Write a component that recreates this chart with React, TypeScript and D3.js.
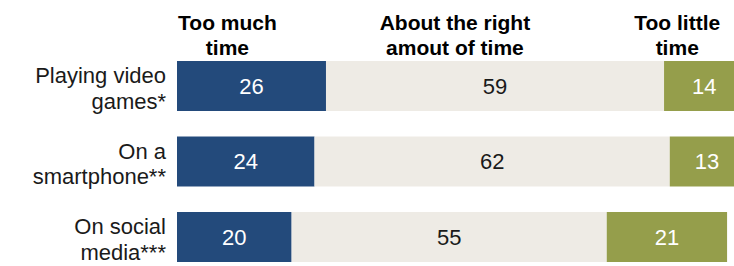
import React from "react";
import * as d3 from "d3";

const categories = [
  ["Playing video", "games*"],
  ["On a", "smartphone**"],
  ["On social", "media***"],
];
const tooMuch = [26, 24, 20];
const aboutRight = [59, 62, 55];
const tooLittle = [14, 13, 21];
const seriesKeys = ["tooMuch", "aboutRight", "tooLittle"];
const headerLabels = [
  ["Too much", "time"],
  ["About the right", "amout of time"],
  ["Too little", "time"],
];

const W = 734;
const H = 266;
const colors: Record<string, string> = {
  tooMuch: "#234a7b",
  aboutRight: "#eeebe5",
  tooLittle: "#959e4b",
};
const textColors: Record<string, string> = {
  tooMuch: "#ffffff",
  aboutRight: "#1a1a1a",
  tooLittle: "#ffffff",
};
const FONT = "'Liberation Sans', Arial, sans-serif";

export default function App() {
  const rows = categories.map((c, i) => ({
    idx: i,
    tooMuch: tooMuch[i],
    aboutRight: aboutRight[i],
    tooLittle: tooLittle[i],
  }));
  const stacked = d3.stack<any>().keys(seriesKeys)(rows);
  const x = d3.scaleLinear().domain([0, 100]).range([177, 750]);
  const y = d3
    .scaleBand<number>()
    .domain(rows.map((r) => r.idx))
    .range([48.25, 274.75])
    .paddingInner(0.338)
    .paddingOuter(0.169);
  const headerAt = [8.8, 48.5, 87.3];

  return (
    <svg
      width={W}
      height={H}
      style={{ position: "absolute", left: 0, top: 0, display: "block" }}
      fontFamily={FONT}
    >
      {stacked.map((s) =>
        s.map((d, i) => {
          const x0 = x(d[0]);
          const x1 = x(d[1]);
          const yy = y(i)!;
          const bw = y.bandwidth();
          return (
            <g key={s.key + i}>
              <rect x={x0} y={yy} width={x1 - x0} height={bw} fill={colors[s.key]} />
              <text
                x={(x0 + x1) / 2}
                y={yy + bw / 2}
                dy="0.35em"
                textAnchor="middle"
                fontSize={22}
                fill={textColors[s.key]}
              >
                {d[1] - d[0]}
              </text>
            </g>
          );
        })
      )}
      {categories.map((lines, i) => {
        const cy = y(i)! + y.bandwidth() / 2;
        return (
          <text key={"c" + i} textAnchor="end" fontSize={22} fill="#1a1a1a">
            {lines.map((l, j) => (
              <tspan key={j} x={166} y={cy - 3 + j * 25.5}>
                {l}
              </tspan>
            ))}
          </text>
        );
      })}
      {headerLabels.map((lines, i) => (
        <text
          key={"h" + i}
          textAnchor="middle"
          fontSize={21}
          fontWeight="bold"
          fill="#000"
        >
          {lines.map((l, j) => (
            <tspan key={j} x={x(headerAt[i])} y={29.5 + j * 25.5}>
              {l}
            </tspan>
          ))}
        </text>
      ))}
    </svg>
  );
}
